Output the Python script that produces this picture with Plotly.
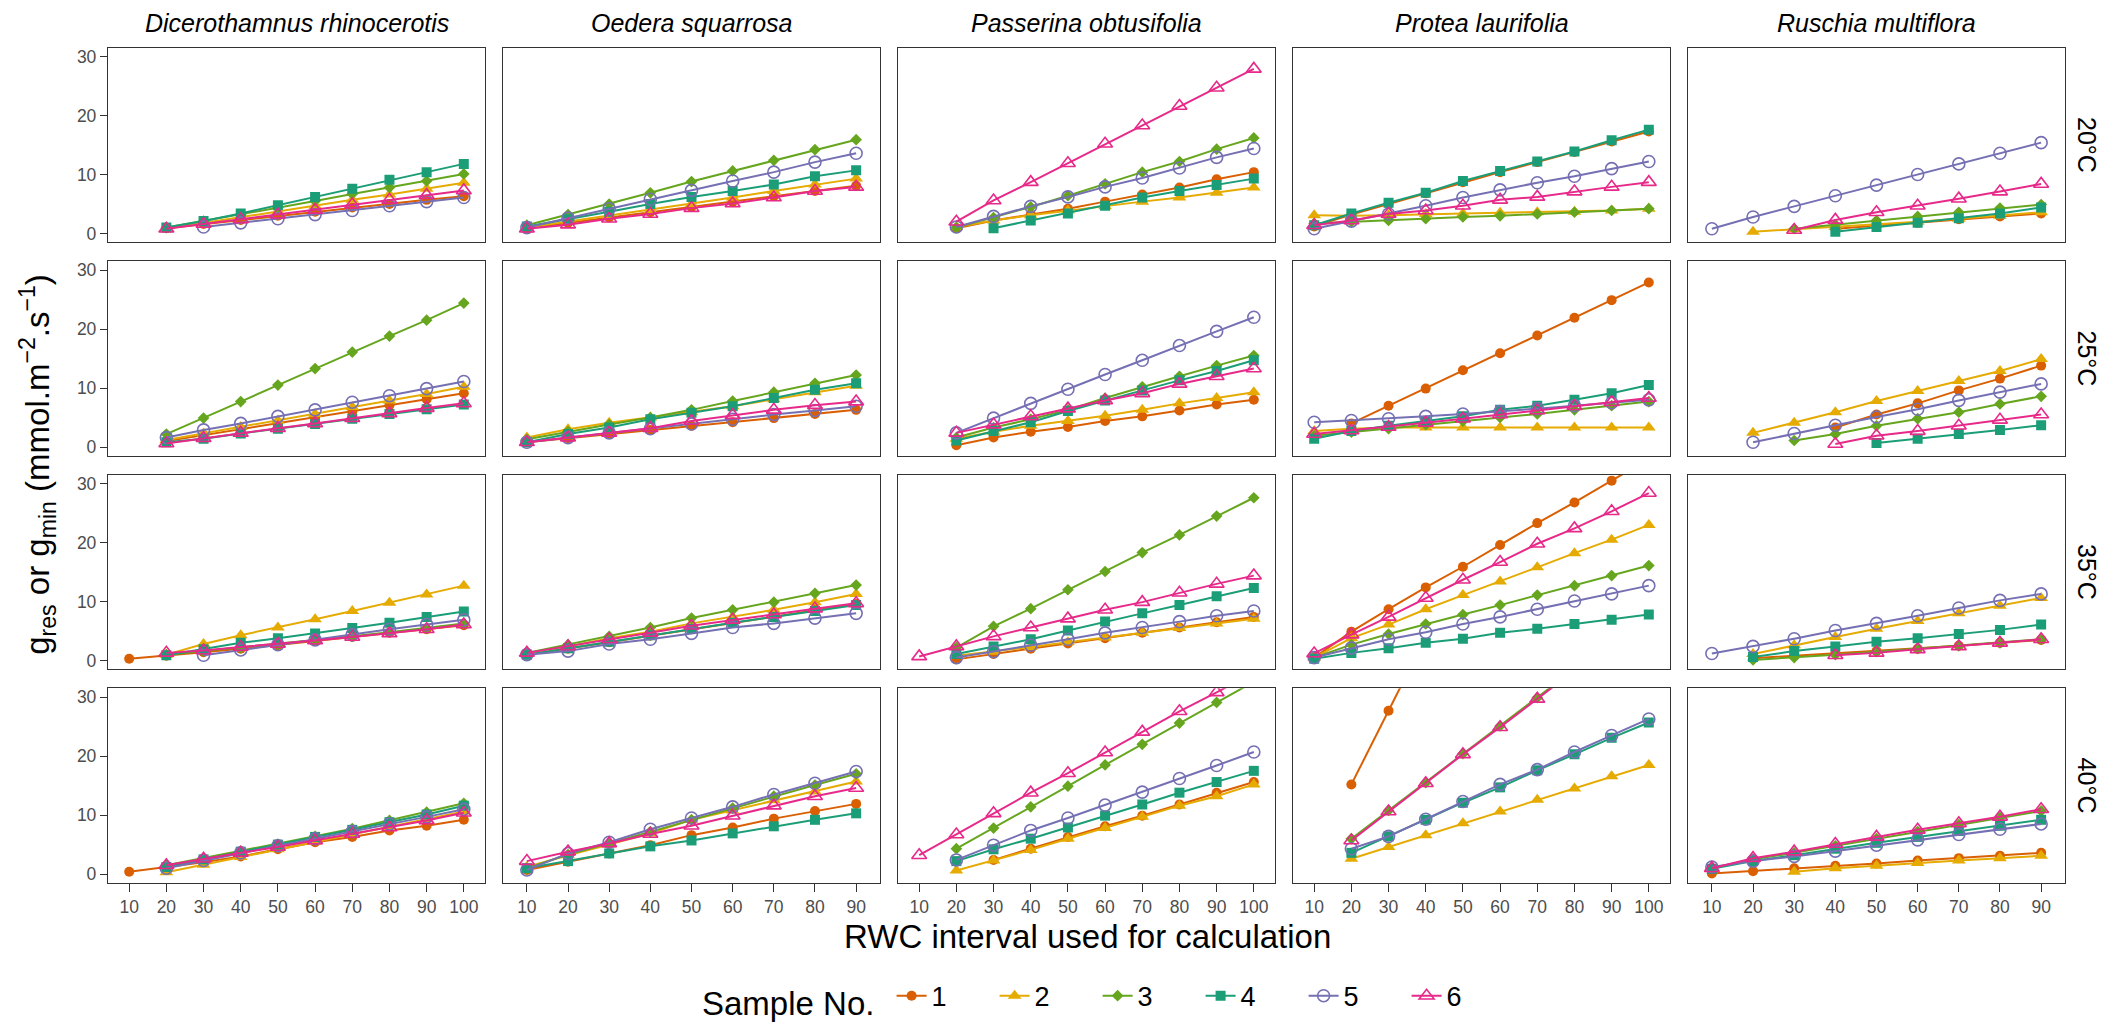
import plotly.graph_objects as go

W, H = 2107, 1025

species = ["Dicerothamnus rhinocerotis", "Oedera squarrosa", "Passerina obtusifolia",
           "Protea laurifolia", "Ruschia multiflora"]
temps = ["20°C", "25°C", "35°C", "40°C"]
sample_names = ["1", "2", "3", "4", "5", "6"]
x_long = [10, 20, 30, 40, 50, 60, 70, 80, 90, 100]
x_short = [10, 20, 30, 40, 50, 60, 70, 80, 90]
col_x = [x_long, x_short, x_long, x_long, x_short]
y_ticks = [0, 10, 20, 30]

# ---- values: each panel = 6 samples, aligned to the column's x ticks ----
# 20 °C
dic_20 = [
    [None, 0.9, 1.6, 2.3, 3.0, 3.7, 4.4, 5.0, 5.7, 6.3],
    [None, 0.8, 1.8, 2.8, 3.7, 4.7, 5.7, 6.6, 7.6, 8.6],
    [None, 1.0, 2.1, 3.2, 4.4, 5.5, 6.7, 7.8, 8.9, 10.1],
    [None, 1.0, 2.1, 3.4, 4.8, 6.2, 7.6, 9.1, 10.4, 11.8],
    [None, None, 1.1, 1.8, 2.5, 3.2, 3.9, 4.7, 5.4, 6.1],
    [None, 0.8, 1.6, 2.4, 3.2, 4.0, 4.9, 5.7, 6.5, 7.3],
]
oed_20 = [
    [0.9, 1.8, 2.7, 3.6, 4.5, 5.4, 6.3, 7.2, 8.1],
    [1.0, 2.0, 3.0, 4.0, 5.0, 6.1, 7.2, 8.3, 9.3],
    [1.4, 3.2, 5.0, 6.9, 8.8, 10.6, 12.4, 14.2, 15.9],
    [1.2, 2.4, 3.7, 5.0, 6.2, 7.2, 8.3, 9.7, 10.7],
    [1.0, 2.6, 4.2, 5.8, 7.3, 8.9, 10.4, 12.1, 13.6],
    [0.8, 1.5, 2.5, 3.3, 4.3, 5.1, 6.1, 7.2, 7.9],
]
pas_20 = [
    [None, 0.9, 2.2, 3.2, 4.2, 5.4, 6.6, 7.8, 9.2, 10.4],
    [None, 1.1, 2.2, 3.1, 3.9, 4.6, 5.4, 6.1, 6.9, 7.8],
    [None, 1.0, 2.7, 4.5, 6.4, 8.4, 10.4, 12.2, 14.3, 16.2],
    [None, None, 0.9, 2.2, 3.4, 4.7, 6.1, 7.2, 8.2, 9.3],
    [None, 1.1, 2.9, 4.6, 6.2, 7.9, 9.4, 11.1, 12.9, 14.4],
    [None, 2.0, 5.6, 8.7, 11.9, 15.2, 18.3, 21.6, 24.7, 27.9],
]
pro_20 = [
    [1.2, 3.2, 5.0, 6.8, 8.7, 10.4, 12.1, 13.8, 15.6, 17.3],
    [3.1, 3.0, 3.1, 3.3, 3.4, 3.5, 3.6, 3.7, 3.9, 4.2],
    [1.7, 2.0, 2.2, 2.5, 2.8, 3.0, 3.3, 3.6, 3.9, 4.2],
    [1.4, 3.4, 5.2, 6.9, 8.9, 10.6, 12.2, 13.9, 15.8, 17.6],
    [0.8, 2.1, 3.3, 4.7, 6.1, 7.4, 8.6, 9.7, 11.0, 12.2],
    [1.4, 2.2, 3.3, 3.9, 4.7, 5.7, 6.2, 7.1, 7.9, 8.7],
]
rus_20 = [
    [None, None, None, 0.8, 1.3, 1.8, 2.4, 2.9, 3.4],
    [None, 0.3, 0.7, 1.1, 1.6, 2.0, 2.5, 3.0, 3.6],
    [None, None, 0.8, 1.5, 2.2, 2.9, 3.6, 4.3, 4.9],
    [None, None, None, 0.3, 1.1, 1.8, 2.6, 3.4, 4.4],
    [0.8, 2.8, 4.6, 6.4, 8.2, 10.0, 11.8, 13.6, 15.4],
    [None, None, 0.6, 2.3, 3.6, 4.7, 5.9, 7.1, 8.4],
]
# 25 °C
dic_25 = [
    [None, 1.0, 2.0, 3.0, 4.0, 5.0, 6.0, 7.1, 8.1, 9.1],
    [None, 1.2, 2.3, 3.4, 4.5, 5.6, 6.8, 7.9, 9.0, 10.2],
    [None, 2.2, 4.9, 7.7, 10.5, 13.3, 16.1, 18.8, 21.5, 24.4],
    [None, 0.8, 1.4, 2.3, 3.1, 3.9, 4.8, 5.6, 6.4, 7.2],
    [None, 1.6, 2.9, 4.0, 5.2, 6.3, 7.6, 8.7, 9.9, 11.1],
    [None, 0.6, 1.5, 2.4, 3.2, 4.0, 4.9, 5.7, 6.6, 7.4],
]
oed_25 = [
    [0.8, 1.5, 2.2, 2.9, 3.6, 4.2, 4.9, 5.6, 6.3],
    [1.6, 3.0, 4.1, 5.0, 5.9, 6.9, 8.1, 9.3, 10.4],
    [1.3, 2.6, 3.8, 5.0, 6.3, 7.8, 9.3, 10.8, 12.2],
    [0.8, 2.2, 3.3, 4.7, 5.8, 6.9, 8.3, 9.7, 10.8],
    [0.8, 1.6, 2.4, 3.1, 3.9, 4.7, 5.5, 6.2, 6.9],
    [0.8, 1.6, 2.4, 3.2, 4.4, 5.4, 6.3, 7.1, 7.7],
]
pas_25 = [
    [None, 0.3, 1.6, 2.6, 3.4, 4.4, 5.2, 6.2, 7.2, 8.0],
    [None, 1.4, 2.6, 3.6, 4.4, 5.3, 6.3, 7.4, 8.3, 9.3],
    [None, 1.6, 3.3, 4.7, 6.3, 8.3, 10.2, 12.0, 13.8, 15.5],
    [None, 1.1, 2.7, 4.2, 6.1, 7.9, 9.6, 11.3, 12.9, 14.7],
    [None, 2.4, 4.9, 7.4, 9.8, 12.3, 14.7, 17.2, 19.6, 22.0],
    [None, 2.4, 3.8, 5.2, 6.5, 7.9, 9.1, 10.7, 12.0, 13.3],
]
pro_25 = [
    [None, 4.0, 7.0, 9.9, 13.0, 15.9, 18.9, 21.9, 24.9, 27.9],
    [2.7, 3.1, 3.3, 3.3, 3.3, 3.3, 3.3, 3.3, 3.3, 3.3],
    [1.9, 2.5, 3.1, 3.8, 4.4, 5.0, 5.6, 6.3, 7.0, 7.7],
    [1.4, 2.7, 3.6, 4.4, 5.2, 6.3, 7.0, 8.0, 9.1, 10.5],
    [4.2, 4.5, 4.8, 5.2, 5.6, 6.0, 6.5, 7.0, 7.5, 8.0],
    [2.2, 2.8, 3.4, 4.1, 4.8, 5.5, 6.2, 6.9, 7.6, 8.3],
]
rus_25 = [
    [None, None, None, 3.3, 5.5, 7.4, 9.6, 11.6, 13.8],
    [None, 2.4, 4.1, 5.9, 7.8, 9.5, 11.2, 12.9, 14.9],
    [None, None, 1.1, 2.2, 3.6, 4.8, 5.9, 7.3, 8.6],
    [None, None, None, None, 0.7, 1.4, 2.2, 2.9, 3.7],
    [None, 0.8, 2.3, 3.7, 5.1, 6.4, 7.9, 9.3, 10.7],
    [None, None, None, 0.5, 1.9, 2.7, 3.6, 4.6, 5.5],
]
# 35 °C
dic_35 = [
    [0.3, 0.8, 1.4, 2.0, 2.6, 3.3, 4.0, 4.7, 5.3, 6.0],
    [None, 1.0, 2.8, 4.3, 5.6, 7.0, 8.4, 9.8, 11.2, 12.7],
    [None, 1.0, 1.6, 2.2, 2.8, 3.5, 4.1, 4.8, 5.5, 6.3],
    [None, 0.9, 1.9, 3.0, 3.8, 4.6, 5.5, 6.4, 7.4, 8.3],
    [None, None, 0.9, 1.8, 2.7, 3.5, 4.4, 5.3, 6.1, 6.9],
    [None, 1.3, 1.7, 2.3, 2.8, 3.4, 4.0, 4.6, 5.3, 6.1],
]
oed_35 = [
    [1.0, 2.0, 3.1, 4.2, 5.3, 6.4, 7.5, 8.6, 9.6],
    [1.3, 2.4, 3.8, 4.9, 6.3, 7.4, 8.6, 9.9, 11.3],
    [1.3, 2.7, 4.1, 5.6, 7.2, 8.6, 9.9, 11.4, 12.8],
    [1.0, 2.1, 3.2, 4.3, 5.4, 6.4, 7.4, 8.4, 9.4],
    [1.0, 1.6, 2.8, 3.6, 4.6, 5.6, 6.3, 7.2, 8.0],
    [1.3, 2.4, 3.6, 4.7, 5.9, 6.9, 7.8, 8.8, 9.7],
]
pas_35 = [
    [None, 0.2, 1.1, 2.0, 2.9, 3.8, 4.7, 5.6, 6.5, 7.4],
    [None, 0.8, 1.5, 2.3, 3.1, 3.9, 4.7, 5.5, 6.3, 7.1],
    [None, 2.2, 5.8, 8.8, 12.0, 15.1, 18.3, 21.3, 24.5, 27.6],
    [None, 1.1, 2.4, 3.6, 5.1, 6.6, 8.0, 9.4, 10.9, 12.3],
    [None, 0.5, 1.5, 2.6, 3.6, 4.7, 5.6, 6.6, 7.6, 8.4],
    [0.7, 2.4, 4.1, 5.6, 7.1, 8.6, 9.9, 11.5, 13.0, 14.4],
]
pro_35 = [
    [0.5, 4.9, 8.7, 12.4, 15.9, 19.6, 23.3, 26.8, 30.5, 34.2],
    [0.5, 3.8, 6.1, 8.7, 11.1, 13.4, 15.8, 18.2, 20.5, 23.0],
    [0.5, 2.7, 4.5, 6.2, 7.8, 9.4, 11.1, 12.7, 14.4, 16.1],
    [0.3, 1.3, 2.1, 3.0, 3.7, 4.7, 5.4, 6.2, 6.9, 7.8],
    [0.5, 2.1, 3.6, 4.8, 6.2, 7.4, 8.7, 10.1, 11.3, 12.7],
    [1.2, 4.4, 7.4, 10.6, 13.7, 16.7, 19.8, 22.4, 25.3, 28.4],
]
rus_35 = [
    [None, 0.4, 0.8, 1.2, 1.6, 2.0, 2.5, 3.0, 3.5],
    [None, 1.1, 2.6, 4.0, 5.4, 6.7, 8.0, 9.3, 10.6],
    [None, 0.1, 0.5, 1.0, 1.5, 2.0, 2.5, 3.0, 3.6],
    [None, 0.6, 1.6, 2.4, 3.2, 3.8, 4.5, 5.2, 6.1],
    [1.2, 2.4, 3.7, 5.1, 6.3, 7.6, 8.9, 10.2, 11.3],
    [None, None, None, 0.9, 1.3, 1.9, 2.4, 3.0, 3.6],
]
# 40 °C
dic_40 = [
    [0.4, 1.2, 2.0, 3.0, 4.2, 5.4, 6.3, 7.4, 8.2, 9.2],
    [None, 0.3, 1.6, 2.9, 4.2, 5.5, 6.8, 8.0, 9.3, 10.6],
    [None, 1.5, 2.7, 3.9, 5.1, 6.4, 7.7, 9.1, 10.5, 12.0],
    [None, 1.2, 2.5, 3.8, 5.0, 6.3, 7.5, 8.8, 10.1, 11.6],
    [None, 1.0, 2.3, 3.6, 4.8, 6.0, 7.2, 8.5, 9.7, 11.0],
    [None, 1.5, 2.6, 3.6, 4.6, 5.7, 6.8, 7.9, 9.1, 10.4],
]
oed_40 = [
    [0.7, 2.1, 3.5, 4.9, 6.6, 7.9, 9.4, 10.7, 11.9],
    [1.2, 3.2, 5.0, 6.9, 9.2, 10.8, 12.5, 14.0, 15.7],
    [1.0, 3.3, 5.2, 7.2, 9.2, 11.2, 13.2, 15.1, 17.0],
    [1.0, 2.2, 3.5, 4.7, 5.7, 6.9, 8.1, 9.2, 10.3],
    [0.7, 3.5, 5.4, 7.6, 9.5, 11.4, 13.5, 15.4, 17.4],
    [2.2, 3.8, 5.2, 6.8, 8.2, 9.9, 11.6, 13.2, 14.6],
]
pas_40 = [
    [None, None, 2.4, 4.3, 6.3, 8.1, 9.9, 11.8, 13.8, 15.6],
    [None, 0.6, 2.3, 4.1, 6.0, 7.8, 9.7, 11.6, 13.2, 15.2],
    [None, 4.3, 7.8, 11.4, 14.9, 18.5, 22.0, 25.6, 29.1, 32.6],
    [None, 2.2, 4.2, 6.0, 7.9, 9.9, 11.8, 13.8, 15.6, 17.5],
    [None, 2.4, 4.9, 7.4, 9.5, 11.7, 13.9, 16.2, 18.4, 20.7],
    [3.2, 6.7, 10.3, 13.8, 17.1, 20.6, 24.1, 27.6, 30.8, 34.2],
]
pro_40 = [
    [None, 15.2, 27.7, 40.2, None, None, None, None, None, None],
    [None, 2.6, 4.6, 6.6, 8.6, 10.6, 12.6, 14.5, 16.6, 18.5],
    [None, 6.0, 10.8, 15.5, 20.4, 25.1, 29.9, 34.7, 39.5, 44.3],
    [None, 3.6, 6.4, 9.2, 12.1, 14.7, 17.6, 20.3, 23.1, 25.7],
    [None, 4.3, 6.4, 9.3, 12.3, 15.2, 17.7, 20.7, 23.5, 26.3],
    [None, 5.7, 10.6, 15.4, 20.3, 24.9, 29.7, 34.5, 39.3, 44.1],
]
rus_40 = [
    [0.1, 0.5, 1.0, 1.4, 1.8, 2.3, 2.7, 3.1, 3.6],
    [None, None, 0.4, 1.0, 1.4, 1.9, 2.3, 2.7, 3.1],
    [1.0, 2.5, 3.6, 4.8, 6.0, 7.2, 8.4, 9.6, 10.7],
    [0.9, 2.2, 3.2, 4.3, 5.3, 6.3, 7.3, 8.2, 9.2],
    [1.2, 2.2, 3.0, 3.9, 4.9, 5.8, 6.7, 7.6, 8.5],
    [1.0, 2.7, 3.8, 5.1, 6.3, 7.5, 8.6, 9.7, 11.0],
]

panels = [
    [dic_20, oed_20, pas_20, pro_20, rus_20],
    [dic_25, oed_25, pas_25, pro_25, rus_25],
    [dic_35, oed_35, pas_35, pro_35, rus_35],
    [dic_40, oed_40, pas_40, pro_40, rus_40],
]

# ---- styling ----
colors = ["#D95F02", "#E6AB02", "#66A61E", "#1B9E77", "#7570B3", "#E7298A"]
symbols = ["circle", "triangle-up", "diamond", "square", "circle-open", "triangle-up-open"]
msizes = [10, 12, 9, 10, 12, 13]
FONT = "Liberation Sans, Arial, sans-serif"
FRAME = "#333333"
TICK_FONT = dict(family=FONT, size=17.5, color="#4D4D4D")

col_left = [108, 503, 898, 1293, 1688]
pan_w = 377
row_top = [48, 263, 478, 693]
pan_h = 196

fig = go.Figure()
layout = {}
for r in range(4):
    for c in range(5):
        n = r * 5 + c + 1
        sfx = "" if n == 1 else str(n)
        xs = col_x[c]
        for s in range(6):
            fig.add_trace(go.Scatter(
                x=xs, y=panels[r][c][s], mode="lines+markers",
                name=sample_names[s], legendgroup=sample_names[s],
                showlegend=(n == 1),
                line=dict(color=colors[s], width=2),
                marker=dict(symbol=symbols[s], size=msizes[s], color=colors[s],
                            line=dict(color=colors[s], width=1.6 if s >= 4 else 0)),
                xaxis=f"x{sfx}", yaxis=f"y{sfx}",
            ))
        xr = [4.3, 105.7] if xs[-1] == 100 else [4.2, 95.8]
        bottom = (r == 3)
        left = (c == 0)
        layout[f"xaxis{sfx}"] = dict(
            domain=[col_left[c] / W, (col_left[c] + pan_w) / W],
            anchor=f"y{sfx}", range=xr, tickvals=xs,
            showticklabels=bottom, ticks="outside" if bottom else "",
            ticklen=8, tickwidth=1.3, tickcolor=FRAME, tickfont=TICK_FONT,
            showline=True, mirror=True, linecolor=FRAME, linewidth=1.3,
            showgrid=False, zeroline=False, fixedrange=True,
        )
        layout[f"yaxis{sfx}"] = dict(
            domain=[1 - (row_top[r] + pan_h) / H, 1 - row_top[r] / H],
            anchor=f"x{sfx}", range=[-1.5, 31.5], tickvals=y_ticks,
            showticklabels=left, ticks="outside" if left else "",
            ticklen=7, tickwidth=1.3, tickcolor=FRAME, tickfont=TICK_FONT,
            showline=True, mirror=True, linecolor=FRAME, linewidth=1.3,
            showgrid=False, zeroline=False, fixedrange=True,
        )

annotations = []
for c, sp in enumerate(species):
    annotations.append(dict(text=f"<i>{sp}</i>", x=(col_left[c] + pan_w / 2) / W, y=1 - 23 / H,
                            xref="paper", yref="paper", showarrow=False,
                            xanchor="center", yanchor="middle",
                            font=dict(family=FONT, size=25, color="black")))
for r, t in enumerate(temps):
    annotations.append(dict(text=t, x=2087 / W, y=1 - (row_top[r] + pan_h / 2) / H,
                            xref="paper", yref="paper", showarrow=False, textangle=90,
                            xanchor="center", yanchor="middle",
                            font=dict(family=FONT, size=25, color="black")))
annotations.append(dict(text="g<sub>res</sub> or g<sub>min</sub> (mmol.m<sup>−2</sup>.s<sup>−1</sup>)",
                        x=38 / W, y=1 - 468 / H, xref="paper", yref="paper", showarrow=False,
                        textangle=-90, xanchor="center", yanchor="middle",
                        font=dict(family=FONT, size=33, color="black")))
annotations.append(dict(text="RWC interval used for calculation",
                        x=1087 / W, y=1 - 943 / H, xref="paper", yref="paper", showarrow=False,
                        xanchor="center", yanchor="middle",
                        font=dict(family=FONT, size=33, color="black")))

fig.update_layout(
    width=W, height=H, margin=dict(l=0, r=0, t=0, b=0),
    paper_bgcolor="white", plot_bgcolor="white",
    annotations=annotations,
    legend=dict(orientation="h", x=1105 / W, xanchor="center", y=1 - 1005 / H, yanchor="middle",
                title=dict(text="Sample No. ", font=dict(family=FONT, size=33, color="black")),
                font=dict(family=FONT, size=27, color="black"),
                entrywidth=58, itemclick=False, itemdoubleclick=False),
    **layout,
)

fig.write_html("out.html")
